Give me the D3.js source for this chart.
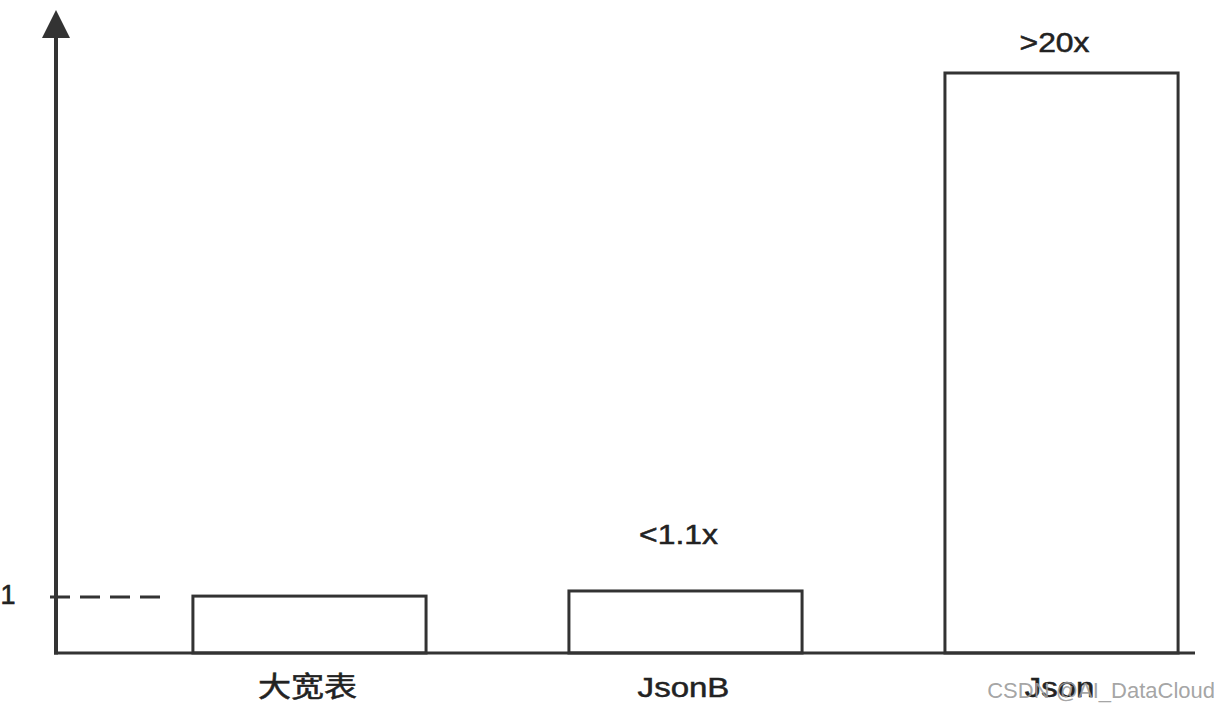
<!DOCTYPE html>
<html><head><meta charset="utf-8">
<script src="https://cdn.jsdelivr.net/npm/d3@7"></script>
<style>html,body{margin:0;padding:0;background:#fff;}svg{display:block;}</style>
</head><body>
<script>
// ---- data ----
const categories = ["大宽表", "JsonB", "Json"];
const values = [1, 1.09, 20];
const valueLabels = ["", "<1.1x", ">20x"];
const refValue = 1;
const refLabel = "1";
const watermark = "CSDN @AI_DataCloud";

// ---- layout ----
const W = 1220, H = 710;
const axisX = 56, baseY = 653, axisEnd = 1195;
const ink = "#333";
const svg = d3.select("body").append("svg").attr("width", W).attr("height", H);

const x = d3.scaleBand().domain(categories).range([176, 1195]).paddingInner(0.38).paddingOuter(0.045);
// broken (piecewise) scale: schematic chart
const y = d3.scaleLinear().domain([0, 1.1, 20]).range([baseY, 590.4, 73]);

const latin = "'Liberation Sans', Arial, Helvetica, sans-serif";
const cjk = "'Liberation Sans', 'Noto Sans CJK SC', sans-serif";

// reference dashed line at 1
svg.append("line").attr("x1", 50).attr("x2", 160)
  .attr("y1", y(refValue)+1).attr("y2", y(refValue)+1)
  .attr("stroke", ink).attr("stroke-width", 3).attr("stroke-dasharray", "20,10");
svg.append("text").attr("x", 8).attr("y", y(refValue)+8).attr("text-anchor", "middle")
  .attr("font-family", latin).attr("font-size", 27).attr("fill", "#222")
  .attr("stroke", "#222").attr("stroke-width", 0.6).text(refLabel);

// bars
svg.selectAll("rect.bar").data(categories).join("rect").attr("class", "bar")
  .attr("x", d => x(d)).attr("width", x.bandwidth())
  .attr("y", (d, i) => y(values[i])).attr("height", (d, i) => baseY - y(values[i]))
  .attr("fill", "#fff").attr("stroke", ink).attr("stroke-width", 3);

// axes
svg.append("line").attr("x1", axisX - 2).attr("x2", axisEnd).attr("y1", baseY).attr("y2", baseY)
  .attr("stroke", ink).attr("stroke-width", 3);
svg.append("line").attr("x1", axisX).attr("x2", axisX).attr("y1", baseY + 1.5).attr("y2", 36)
  .attr("stroke", ink).attr("stroke-width", 4);
svg.append("path").attr("d", `M${axisX},10 L${axisX+14},38 L${axisX-14},38 Z`).attr("fill", ink);

// category labels
svg.selectAll("text.cat").data(categories).join("text").attr("class", "cat")
  .attr("transform", d => `translate(${x(d) + x.bandwidth()/2 - 2},697) scale(1.18,1)`)
  .attr("text-anchor", "middle").attr("font-family", cjk).attr("font-size", 28).attr("fill", "#222")
  .attr("stroke", "#222").attr("stroke-width", 0.5)
  .text(d => d);

// value labels
const labelGap = [0, 47, 21];
svg.selectAll("text.val").data(categories).join("text").attr("class", "val")
  .attr("transform", (d, i) => `translate(${x(d) + x.bandwidth()/2 - 7},${y(values[i]) - labelGap[i]}) scale(1.18,1)`)
  .attr("text-anchor", "middle").attr("font-family", latin).attr("font-size", 27).attr("fill", "#222")
  .attr("stroke", "#222").attr("stroke-width", 0.5)
  .text((d, i) => valueLabels[i]);

// watermark
svg.append("text").attr("x", 1215).attr("y", 698).attr("text-anchor", "end")
  .attr("font-family", latin).attr("font-size", 22).attr("fill", "#9a9a9a").attr("fill-opacity", 0.9)
  .text(watermark);
</script>
</body></html>
